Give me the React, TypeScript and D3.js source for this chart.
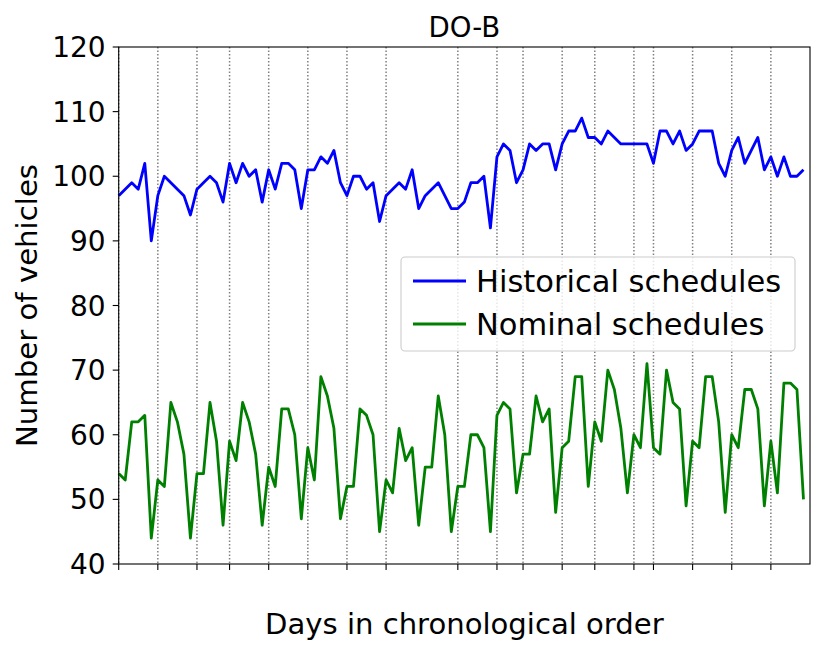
import React from "react";
import * as d3 from "d3";

const historical: number[] = [
  97, 98, 99, 98, 102, 90, 97, 100, 99, 98, 97, 94, 98, 99, 100, 99, 96, 102, 99, 102,
  100, 101, 96, 101, 98, 102, 102, 101, 95, 101, 101, 103, 102, 104, 99, 97, 100, 100, 98, 99,
  93, 97, 98, 99, 98, 101, 95, 97, 98, 99, 97, 95, 95, 96, 99, 99, 100, 92, 103, 105,
  104, 99, 101, 105, 104, 105, 105, 101, 105, 107, 107, 109, 106, 106, 105, 107, 106, 105, 105, 105,
  105, 105, 102, 107, 107, 105, 107, 104, 105, 107, 107, 107, 102, 100, 104, 106, 102, 104, 106, 101,
  103, 100, 103, 100, 100, 101,
];

const nominal: number[] = [
  54, 53, 62, 62, 63, 44, 53, 52, 65, 62, 57, 44, 54, 54, 65, 59, 46, 59, 56, 65,
  62, 57, 46, 55, 52, 64, 64, 60, 47, 58, 53, 69, 66, 61, 47, 52, 52, 64, 63, 60,
  45, 53, 51, 61, 56, 58, 46, 55, 55, 66, 60, 45, 52, 52, 60, 60, 58, 45, 63, 65,
  64, 51, 57, 57, 66, 62, 64, 48, 58, 59, 69, 69, 52, 62, 59, 70, 67, 61, 51, 60,
  58, 71, 58, 57, 70, 65, 64, 49, 59, 58, 69, 69, 62, 48, 60, 58, 67, 67, 64, 49,
  59, 51, 68, 68, 67, 50,
];

const weekStarts: number[] = [0, 6, 12, 17, 23, 29, 35, 41, 52, 58, 62, 68, 73, 79, 82, 88, 94, 100];
const yTicks: number[] = [40, 50, 60, 70, 80, 90, 100, 110, 120];
const seriesNames: string[] = ["Historical schedules", "Nominal schedules"];
const seriesColors: string[] = ["#0000ff", "#008000"];

const W = 831;
const H = 654;
const L = 118.7;
const R = 810;
const T = 47;
const B = 564;
const FONT = "'DejaVu Sans', sans-serif";

export default function App() {
  const x = d3.scaleLinear().domain([0, 106]).range([L, R]);
  const y = d3.scaleLinear().domain([40, 120]).range([B, T]);
  const line = d3
    .line<number>()
    .x((_, i) => x(i))
    .y((d) => y(d));
  const series = [historical, nominal];

  return (
    <svg
      width={W}
      height={H}
      style={{ position: "absolute", left: 0, top: 0, background: "#fff" }}
      fontFamily={FONT}
    >
      <rect x={0} y={0} width={W} height={H} fill="#fff" />
      {weekStarts.map((w) => (
        <line
          key={"g" + w}
          x1={x(w)}
          x2={x(w)}
          y1={T}
          y2={B}
          stroke="#808080"
          strokeWidth={1.5}
          strokeDasharray="1.4,2.1"
        />
      ))}
      {series.map((s, k) => (
        <path
          key={"s" + k}
          d={line(s) || ""}
          fill="none"
          stroke={seriesColors[k]}
          strokeWidth={2.8}
          strokeLinejoin="round"
          strokeLinecap="butt"
        />
      ))}
      <rect x={L} y={T} width={R - L} height={B - T} fill="none" stroke="#000" strokeWidth={1.1} />
      {yTicks.map((t) => (
        <g key={"y" + t}>
          <line x1={L - 6} x2={L} y1={y(t)} y2={y(t)} stroke="#000" strokeWidth={1.1} />
          <text x={L - 13} y={y(t)} dy="0.36em" textAnchor="end" fontSize={28} fill="#000">
            {t}
          </text>
        </g>
      ))}
      {weekStarts.map((w) => (
        <line key={"x" + w} x1={x(w)} x2={x(w)} y1={B} y2={B + 6} stroke="#000" strokeWidth={1.1} />
      ))}
      <text x={(L + R) / 2} y={37} textAnchor="middle" fontSize={27.6} fill="#000">
        DO-B
      </text>
      <text x={(L + R) / 2} y={634} textAnchor="middle" fontSize={29.1} fill="#000">
        Days in chronological order
      </text>
      <text
        transform={`translate(37,${(T + B) / 2}) rotate(-90)`}
        textAnchor="middle"
        fontSize={29.2}
        fill="#000"
      >
        Number of vehicles
      </text>
      <rect x={401} y={257} width={394} height={94} rx={4} fill="#fff" fillOpacity={0.8} stroke="#cccccc" strokeWidth={1.1} />
      {seriesNames.map((n, k) => (
        <g key={"l" + k}>
          <line x1={413} x2={466} y1={281 + k * 43} y2={281 + k * 43} stroke={seriesColors[k]} strokeWidth={2.8} />
          <text x={476} y={281 + k * 43} dy="0.36em" fontSize={30.5} fill="#000">
            {n}
          </text>
        </g>
      ))}
    </svg>
  );
}
